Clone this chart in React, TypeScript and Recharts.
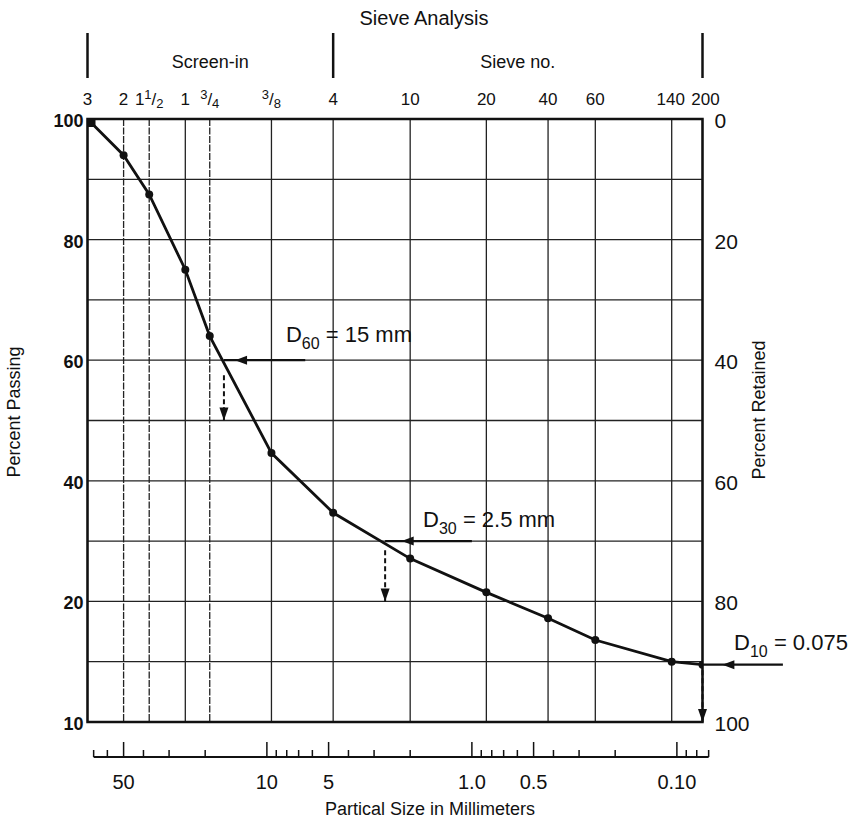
import React from 'react';
import {
  ComposedChart,
  Line,
  XAxis,
  YAxis,
  CartesianGrid,
  ReferenceArea,
  ReferenceLine,
  ReferenceDot,
} from 'recharts';

// ---- data ----
const sieveLabels = ['3', '2', '1 1/2', '1', '3/4', '3/8', '4', '10', '20', '40', '60', '140', '200'];
const sieveSizesMm = [75, 50, 37.5, 25, 19, 9.5, 4.75, 2.0, 0.85, 0.425, 0.25, 0.106, 0.075];
const percentPassing = [100, 94, 87.5, 75, 64, 44.6, 34.7, 27.1, 21.5, 17.2, 13.6, 10, 9.5];

const groupLabels = ['', 'Screen-in', '', 'Sieve no.', ''];
const groupPositionsMm = [75, Math.sqrt(75 * 4.75), 4.75, Math.sqrt(4.75 * 0.075), 0.075];

const mmTicks = [70, 60, 50, 40, 30, 20, 10, 9, 8, 7, 6, 5, 4, 3, 2, 1, 0.9, 0.8, 0.7, 0.6, 0.5, 0.4, 0.3, 0.2, 0.1, 0.09, 0.08, 0.07];
const mmTickLabels: Record<string, string> = { '50': '50', '10': '10', '5': '5', '1': '1.0', '0.5': '0.5', '0.1': '0.10' };

const passingTicks = [0, 10, 20, 30, 40, 50, 60, 70, 80, 90, 100];
const passingTickLabels: Record<string, string> = { '0': '10', '20': '20', '40': '40', '60': '60', '80': '80', '100': '100' };
const retainedTicks = [0, 20, 40, 60, 80, 100];

// sieve gridlines drawn broken in the original scan
const dottedSieves = [50, 37.5, 19];

// D-value annotations
const d60 = { label: '60', text: ' = 15 mm', textAt: [8.07, 63.0], arrowFrom: 6.5, arrowTo: 16.2, y: 60, head: 14.3, dropTop: 57.5, dropBottom: 50 };
const d30 = { label: '30', text: ' = 2.5 mm', textAt: [1.73, 32.4], arrowFrom: 1.0, arrowTo: 2.65, y: 30, head: 2.2, dropTop: 28.5, dropBottom: 20 };
const d10 = { label: '10', text: ' = 0.075', textAt: [0.0526, 11.9], arrowFrom: 0.0304, arrowTo: 0.075, y: 9.5, head: 0.06, dropTop: 8.6, dropBottom: 0 };
const mmAxisLine = { from: 70, to: 0.07, level: -5.8 };

const chartData = sieveSizesMm.map((size, i) => ({ size, passing: percentPassing[i] }));

const FONT = '"Liberation Sans", Arial, sans-serif';
const INK = '#111';

const renderFraction = (label: string, x: number, y: number) => {
  const parts = label.split(' ');
  let whole = '';
  let frac = parts[0];
  if (parts.length === 2) {
    whole = parts[0];
    frac = parts[1];
  }
  if (!frac.includes('/')) {
    return (
      <text x={x} y={y} textAnchor="middle" fontSize={17} fontFamily={FONT} fill={INK}>
        {label}
      </text>
    );
  }
  const [num, den] = frac.split('/');
  return (
    <text x={x} y={y} textAnchor="middle" fontSize={17} fontFamily={FONT} fill={INK}>
      {whole && <tspan>{whole}</tspan>}
      <tspan fontSize={13} dy={-6}>{num}</tspan>
      <tspan dy={6}>/</tspan>
      <tspan fontSize={13} dy={3}>{den}</tspan>
    </text>
  );
};

const SieveTick = (props: any) => {
  const { x, y, index } = props;
  const nudge = index === sieveLabels.length - 1 ? 3 : index === sieveLabels.length - 2 ? -1 : 0;
  return <g>{renderFraction(sieveLabels[index], x + nudge, y - 14)}</g>;
};

const GroupTick = (props: any) => {
  const { x, y, index } = props;
  const label = groupLabels[index];
  if (label) {
    return (
      <text x={x} y={y - 21} textAnchor="middle" fontSize={18} fontFamily={FONT} fill={INK}>
        {label}
      </text>
    );
  }
  return <line x1={x} x2={x} y1={y - 56} y2={y - 11} stroke={INK} strokeWidth={2.5} />;
};

const MmTick = (props: any) => {
  const { x, y, payload } = props;
  const label = mmTickLabels[String(payload.value)];
  const major = label !== undefined;
  return (
    <g>
      <line x1={x} x2={x} y1={y} y2={y - (major ? 15 : 7)} stroke={INK} strokeWidth={1.5} />
      {major && (
        <text x={x} y={y + 32} textAnchor="middle" fontSize={20} fontFamily={FONT} fill={INK}>
          {label}
        </text>
      )}
    </g>
  );
};

const PassingTick = (props: any) => {
  const { x, y, payload } = props;
  const label = passingTickLabels[String(payload.value)];
  if (label === undefined) return <g />;
  return (
    <text x={x - 4} y={y + 8} textAnchor="end" fontSize={18} fontWeight="bold" fontFamily={FONT} fill={INK}>
      {label}
    </text>
  );
};

const RetainedTick = (props: any) => {
  const { x, y, payload } = props;
  return (
    <text x={x + 12} y={y + 9} textAnchor="start" fontSize={21} fontFamily={FONT} fill={INK}>
      {payload.value}
    </text>
  );
};

const LeftArrowHead = (props: any) => {
  const { cx, cy } = props;
  return <path d={`M${cx},${cy} L${cx + 12},${cy - 4.5} L${cx + 12},${cy + 4.5} Z`} fill={INK} />;
};

const DownArrowHead = (props: any) => {
  const { cx, cy } = props;
  return <path d={`M${cx},${cy} L${cx - 4.5},${cy - 13} L${cx + 4.5},${cy - 13} Z`} fill={INK} />;
};

const dText = (sub: string, rest: string) => (props: any) => {
  const { cx, cy } = props;
  return (
    <text x={cx} y={cy} fontSize={22} fontFamily={FONT} fill={INK}>
      D<tspan fontSize={16} dy={7}>{sub}</tspan>
      <tspan dy={-7}>{rest}</tspan>
    </text>
  );
};

const CurveDot = (props: any) => {
  const { cx, cy, index } = props;
  if (index === 0) {
    return <rect key={`dot-${index}`} x={cx} y={cy} width={8} height={8} fill={INK} />;
  }
  return <circle key={`dot-${index}`} cx={cx} cy={cy} r={4} fill={INK} />;
};

const VerticalGridLine = (props: any) => {
  const { x1, x2, y1, y2, index } = props;
  const dotted = dottedSieves.includes(sieveSizesMm[index]);
  return (
    <line
      key={`vg-${index}`}
      x1={x1}
      x2={x2}
      y1={y1}
      y2={y2}
      stroke="#222"
      strokeWidth={1.3}
      strokeDasharray={dotted ? '7 1.5' : undefined}
    />
  );
};

const annotation = (d: typeof d60, key: string) => [
  <ReferenceLine
    key={`${key}-h`}
    xAxisId="asieve"
    yAxisId="left"
    ifOverflow="visible"
    segment={[{ x: d.arrowFrom, y: d.y }, { x: d.arrowTo, y: d.y }]}
    stroke={INK}
    strokeWidth={2.2}
  />,
  <ReferenceDot key={`${key}-hh`} xAxisId="asieve" yAxisId="left" ifOverflow="visible" x={d.head} y={d.y} shape={LeftArrowHead} />,
  <ReferenceLine
    key={`${key}-v`}
    xAxisId="asieve"
    yAxisId="left"
    ifOverflow="visible"
    segment={[{ x: d.arrowTo, y: d.dropTop }, { x: d.arrowTo, y: d.dropBottom }]}
    stroke={INK}
    strokeWidth={2}
    strokeDasharray="5 3"
  />,
  <ReferenceDot key={`${key}-vh`} xAxisId="asieve" yAxisId="left" ifOverflow="visible" x={d.arrowTo} y={d.dropBottom} shape={DownArrowHead} />,
  <ReferenceDot
    key={`${key}-t`}
    xAxisId="asieve"
    yAxisId="left"
    ifOverflow="visible"
    x={d.textAt[0]}
    y={d.textAt[1]}
    shape={dText(d.label, d.text)}
  />,
];

const logAxisProps = {
  type: 'number' as const,
  dataKey: 'size',
  scale: 'log' as const,
  domain: [0.075, 75],
  reversed: true,
  allowDataOverflow: true,
  interval: 0 as const,
  tickSize: 0,
  tickMargin: 0,
  tickLine: false,
  axisLine: false,
};

const hiddenLine = (xId: string, key: string) => (
  <Line
    key={key}
    xAxisId={xId}
    yAxisId="right"
    dataKey="passing"
    stroke="none"
    dot={false}
    activeDot={false}
    legendType="none"
    isAnimationActive={false}
  />
);

export default function App() {
  return (
    <div style={{ position: 'absolute', left: 0, top: 0, width: 862, height: 826, background: '#fff' }}>
      <ComposedChart width={862} height={826} data={chartData} margin={{ top: 0, right: 0, bottom: 0, left: 0 }}>
        <XAxis
          {...logAxisProps}
          xAxisId="zgroup"
          orientation="top"
          height={89}
          ticks={groupPositionsMm}
          tick={<GroupTick />}
          label={(p: any) => (
            <text x={424} y={25} textAnchor="middle" fontSize={20} fontFamily={FONT} fill={INK}>
              Sieve Analysis
            </text>
          )}
        />
        <XAxis
          {...logAxisProps}
          xAxisId="asieve"
          orientation="top"
          height={30}
          ticks={sieveSizesMm}
          tick={<SieveTick />}
        />
        <XAxis
          {...logAxisProps}
          xAxisId="zmm"
          orientation="bottom"
          height={69}
          ticks={mmTicks}
          tick={<MmTick />}
          label={(p: any) => (
            <text x={430} y={815} textAnchor="middle" fontSize={18} fontFamily={FONT} fill={INK}>
              Partical Size in Millimeters
            </text>
          )}
        />
        <XAxis {...logAxisProps} xAxisId="apad" orientation="bottom" height={35} tick={false} />
        <YAxis
          yAxisId="left"
          type="number"
          domain={[0, 100]}
          allowDataOverflow
          ticks={passingTicks}
          interval={0}
          width={87.5}
          tickSize={0}
          tickMargin={0}
          tickLine={false}
          axisLine={false}
          tick={<PassingTick />}
          label={(p: any) => (
            <text x={20} y={412} transform="rotate(-90 20 412)" textAnchor="middle" fontSize={18} fontFamily={FONT} fill={INK}>
              Percent Passing
            </text>
          )}
        />
        <YAxis
          yAxisId="right"
          orientation="right"
          type="number"
          domain={[0, 100]}
          allowDataOverflow
          reversed
          ticks={retainedTicks}
          interval={0}
          width={159.5}
          tickSize={0}
          tickMargin={0}
          tickLine={false}
          axisLine={false}
          tick={<RetainedTick />}
          label={(p: any) => (
            <text x={765} y={410} transform="rotate(-90 765 410)" textAnchor="middle" fontSize={18} fontFamily={FONT} fill={INK}>
              Percent Retained
            </text>
          )}
        />
        <CartesianGrid xAxisId="asieve" yAxisId="left" stroke="#222" strokeWidth={1.3} vertical={VerticalGridLine} />
        <ReferenceArea
          xAxisId="asieve"
          yAxisId="left"
          x1={75}
          x2={0.075}
          y1={0}
          y2={100}
          fill="none"
          stroke={INK}
          strokeWidth={2.5}
          ifOverflow="visible"
        />
        <ReferenceLine
          xAxisId="asieve"
          yAxisId="left"
          ifOverflow="visible"
          segment={[{ x: mmAxisLine.from, y: mmAxisLine.level }, { x: mmAxisLine.to, y: mmAxisLine.level }]}
          stroke={INK}
          strokeWidth={2}
        />
        {annotation(d60, 'd60')}
        {annotation(d30, 'd30')}
        {annotation(d10, 'd10')}
        {hiddenLine('zgroup', 'h1')}
        {hiddenLine('zmm', 'h2')}
        {hiddenLine('apad', 'h3')}
        <Line
          xAxisId="asieve"
          yAxisId="left"
          dataKey="passing"
          type="linear"
          stroke={INK}
          strokeWidth={2.8}
          dot={CurveDot}
          activeDot={false}
          isAnimationActive={false}
        />
      </ComposedChart>
    </div>
  );
}
